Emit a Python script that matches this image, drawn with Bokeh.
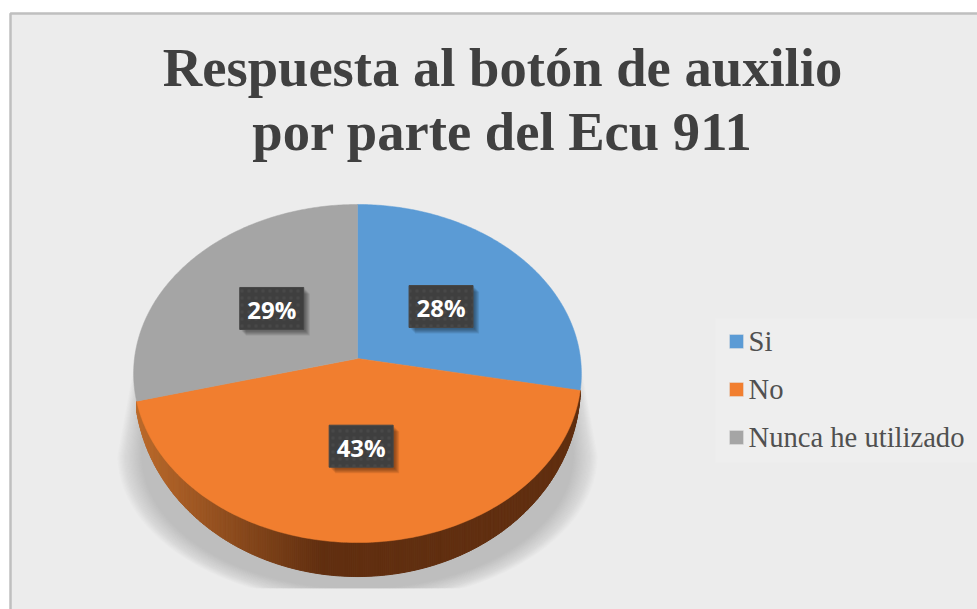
import numpy as np
from bokeh.embed import file_html
from bokeh.models import ColumnDataSource, Range1d
from bokeh.plotting import figure
from bokeh.core.properties import value
from bokeh.resources import INLINE

# Survey answers, in percent
categories = ["Si", "No", "Nunca he utilizado"]
percentages = [28, 43, 29]
slice_colors = ["#5B9BD5", "#F17E2F", "#A5A5A5"]
title_lines = ["Respuesta al botón de auxilio", "por parte del Ecu 911"]

W, H = 977, 609
CX, CY = 357.0, 358.0      # projected pie centre
RX, RY = 223.0, 167.7      # projected radii
TILT = 0.0888              # perspective strength
DEPTH = 34.0               # wall height at the front of the disc
SERIF = value("Liberation Serif")


def project(radius, angle):
    """Map a point of the flat disc (clockwise from 12 o'clock) to the page."""
    u, v = radius * np.sin(angle), radius * np.cos(angle)
    w = 1 + TILT * v
    return CX + RX * u / w, CY - RY * v / w


def mix(c0, c1, t):
    a = np.array([int(c0[i:i + 2], 16) for i in (1, 3, 5)], float)
    b = np.array([int(c1[i:i + 2], 16) for i in (1, 3, 5)], float)
    r, g, b2 = (a + (b - a) * t).round().astype(int)
    return f"#{r:02x}{g:02x}{b2:02x}"


p = figure(width=W, height=H, output_backend="svg", toolbar_location=None,
           x_range=Range1d(0, W), y_range=Range1d(H, 0), min_border=0,
           background_fill_color="#ffffff", border_fill_color="#ffffff",
           outline_line_color=None)
p.axis.visible = False
p.grid.visible = False

# Chart frame
p.quad(left=[10], right=[W + 4], top=[13], bottom=[H + 4],
       fill_color="#ececec", line_color="#bfbfbf", line_width=2.5)

# Soft cast shadow behind the disc, built from nested translucent outlines
theta = np.linspace(np.pi, 0, 120)
for s in np.linspace(0, 24, 20):
    ex = CX + (240 - s) * np.cos(theta)
    ey = np.minimum(455 + (148 - 0.6 * s) * np.sin(theta), 588)
    xs = [CX - 224 + s * 0.4] + list(ex) + [CX + 224 - s * 0.4]
    ys = [368 + s] + list(ey) + [368 + s]
    p.patch(xs, ys, fill_color="#808080", fill_alpha=0.028, line_color=None)

# Slice angles follow from the percentages
fractions = np.array(percentages) / sum(percentages)
edges = np.concatenate([[0], np.cumsum(fractions)]) * 2 * np.pi

# Side wall below the front slice, shaded in vertical strips
a0, a1 = edges[1], edges[2]
arc = np.linspace(a0, a1, 321)
tx, ty = project(1.0, arc)
end_x = np.abs(tx - CX).max()
drop = DEPTH * np.clip(1 - ((tx - CX) / end_x) ** 2, 0, 1) ** 0.3
bx, by = tx, ty + drop
strip_xs, strip_ys, strip_cols = [], [], []
for i in range(len(arc) - 1):
    strip_xs.append([tx[i], tx[i + 1], bx[i + 1], bx[i]])
    strip_ys.append([ty[i], ty[i + 1], by[i + 1], by[i]])
    t = np.clip((0.5 * (tx[i] + tx[i + 1]) - 135) / 185, 0, 1)
    strip_cols.append(mix("#BC6B2C", "#612F10", t))
p.patches(strip_xs, strip_ys, fill_color=strip_cols, line_color=strip_cols, line_width=1)

# Top face of the pie
for k, color in enumerate(slice_colors):
    sx, sy = project(1.0, np.linspace(edges[k], edges[k + 1], 160))
    p.patch([CX] + list(sx), [CY] + list(sy), fill_color=color,
            line_color=color, line_width=0.5)

# Percentage labels on dark tiles with a soft drop shadow
mids = 0.5 * (edges[:-1] + edges[1:])
lx, ly = project(0.5, mids)
label_src = ColumnDataSource(dict(x=lx, y=ly, text=[f"{v}%" for v in percentages]))
for off in [3, 4, 5, 6, 7]:
    p.rect(x=lx + off - 1, y=ly + off - 1, width=64, height=42,
           fill_color="#000000", fill_alpha=0.09, line_color=None)
p.rect(x="x", y="y", width=64, height=42, source=label_src, fill_color="#3F3F3F",
       line_color="#474747", line_width=1,
       hatch_pattern="dot", hatch_color="#585858", hatch_scale=7, hatch_alpha=0.35)
p.text(x="x", y="y", text="text", source=label_src, text_color="#ffffff", y_offset=1,
       text_font=value("Open Sans"), text_font_style="bold", text_font_size="24px",
       text_align="center", text_baseline="middle")

# Title
p.text(x=[CX + 145, CX + 145], y=[67, 131], text=title_lines, text_color="#404040",
       text_font=SERIF, text_font_style="bold", text_font_size="54.6px",
       text_align="center", text_baseline="middle")

# Legend
legend_y = [341, 389, 437]
p.quad(left=[715], right=[W], top=[318], bottom=[462], fill_color="#eeeeee", line_color=None)
p.rect(x=[736] * 3, y=legend_y, width=14, height=14, fill_color=slice_colors,
       line_color="#e0e0e0", line_width=0.5)
p.text(x=[748] * 3, y=legend_y, text=categories, text_color="#505050",
       text_font=SERIF, text_font_size="28.6px", text_align="left", text_baseline="middle")

open("out.html", "w").write(file_html(p, INLINE))
